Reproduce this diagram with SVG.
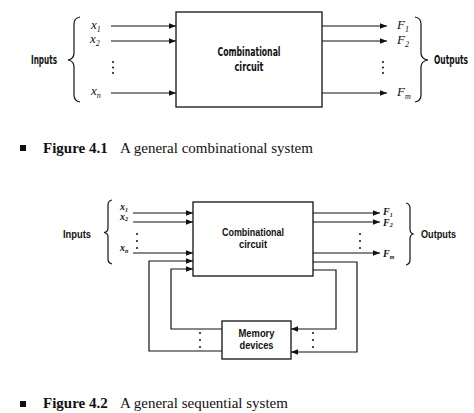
<svg xmlns="http://www.w3.org/2000/svg" width="474" height="413" viewBox="0 0 474 413">
<defs>
<marker id="ah" viewBox="0 0 10 10" refX="10" refY="5" markerWidth="7" markerHeight="7" markerUnits="userSpaceOnUse" orient="auto">
<path d="M0,1 L10,5 L0,9 Z" fill="#111"/>
</marker>
<style>
.ln{fill:none;stroke:#111;stroke-width:1.2}
.ar{fill:none;stroke:#111;stroke-width:1.2;marker-end:url(#ah)}
.box{fill:#fff;stroke:#111;stroke-width:1.3}
.c1{font-family:"DejaVu Sans Condensed","Liberation Sans",sans-serif;font-weight:bold;font-size:12px;fill:#111}
.c2{font-family:"Liberation Sans",Arial,sans-serif;font-weight:bold;font-size:10px;fill:#111}
.v{font-family:"Liberation Serif","Times New Roman",serif;font-style:italic;font-size:13px;fill:#111}
.v2{font-family:"Liberation Serif","Times New Roman",serif;font-style:italic;font-weight:bold;font-size:10px;fill:#111}
.sub{font-size:8px}
.sub2{font-size:6px}
.cap{font-family:"Liberation Serif","Times New Roman",serif;font-size:15px;fill:#111}
.dot{fill:#111}
</style>
</defs>

<!-- Figure 4.1 -->
<g id="fig1-comb">
<rect class="box" x="176" y="12" width="146" height="95"/>
<text class="c1" x="249" y="56" text-anchor="middle" textLength="63" lengthAdjust="spacingAndGlyphs">Combinational</text>
<text class="c1" x="249" y="71" text-anchor="middle" textLength="29" lengthAdjust="spacingAndGlyphs">circuit</text>
</g>
<g id="fig1-inputs">
<path class="ln" d="M80,17 Q74,18 74,24 L74,53 Q74,59 68,60 Q74,61 74,67 L74,95 Q74,101 80,102"/>
<text class="c1" x="31" y="64" textLength="26" lengthAdjust="spacingAndGlyphs">Inputs</text>
<text class="v" x="91" y="29">x<tspan class="sub" dy="3">1</tspan></text>
<text class="v" x="90" y="43">x<tspan class="sub" dy="3">2</tspan></text>
<text class="v" x="91" y="95">x<tspan class="sub" dy="3">n</tspan></text>
<circle class="dot" cx="113" cy="62" r="1"/><circle class="dot" cx="113" cy="67.5" r="1"/><circle class="dot" cx="113" cy="73" r="1"/>
</g>
<g id="fig1-outputs">
<path class="ln" d="M415,17 Q421,18 421,24 L421,53 Q421,59 428,60 Q421,61 421,67 L421,95 Q421,101 415,102"/>
<text class="c1" x="434" y="64" textLength="34" lengthAdjust="spacingAndGlyphs">Outputs</text>
<text class="v" x="397" y="29">F<tspan class="sub" dy="3">1</tspan></text>
<text class="v" x="397" y="44">F<tspan class="sub" dy="3">2</tspan></text>
<text class="v" x="397" y="96">F<tspan class="sub" dy="3">m</tspan></text>
<circle class="dot" cx="383" cy="62" r="1"/><circle class="dot" cx="383" cy="67.5" r="1"/><circle class="dot" cx="383" cy="73" r="1"/>
</g>
<g id="fig1-connectors">
<line class="ar" x1="111" y1="26" x2="176" y2="26"/>
<line class="ar" x1="111" y1="41" x2="176" y2="41"/>
<line class="ar" x1="111" y1="93" x2="176" y2="93"/>
<line class="ar" x1="322" y1="26" x2="387" y2="26"/>
<line class="ar" x1="322" y1="41" x2="387" y2="41"/>
<line class="ar" x1="322" y1="93" x2="387" y2="93"/>
</g>
<g id="caption1">
<rect x="20" y="145" width="6" height="6" fill="#111"/>
<text class="cap" x="43" y="153"><tspan font-weight="bold">Figure 4.1</tspan><tspan x="120">A general combinational system</tspan></text>
</g>

<!-- Figure 4.2 -->
<g id="fig2-comb">
<rect class="box" x="193" y="202" width="120" height="74"/>
<text class="c2" x="253" y="236" text-anchor="middle" textLength="62" lengthAdjust="spacingAndGlyphs">Combinational</text>
<text class="c2" x="253" y="248" text-anchor="middle" textLength="28" lengthAdjust="spacingAndGlyphs">circuit</text>
</g>
<g id="fig2-memory">
<rect class="box" x="222" y="321" width="69" height="38"/>
<text class="c2" x="256.5" y="337" text-anchor="middle" textLength="36" lengthAdjust="spacingAndGlyphs">Memory</text>
<text class="c2" x="256.5" y="349" text-anchor="middle" textLength="34" lengthAdjust="spacingAndGlyphs">devices</text>
</g>
<g id="fig2-inputs">
<path class="ln" d="M112,200 Q108,201 108,205 L108,228 Q108,232 104,232.5 Q108,233 108,237 L108,259 Q108,263 112,264"/>
<text class="c2" x="63" y="238" textLength="28" lengthAdjust="spacingAndGlyphs">Inputs</text>
<text class="v2" x="120" y="210" font-size="8">x<tspan class="sub2" dy="1.5">1</tspan></text>
<text class="v2" x="120" y="219.5" font-size="8">x<tspan class="sub2" dy="1.5">2</tspan></text>
<text class="v2" x="120" y="251" font-size="8">x<tspan class="sub2" dy="2">n</tspan></text>
<circle class="dot" cx="137" cy="234" r="1"/><circle class="dot" cx="137" cy="241" r="1"/><circle class="dot" cx="137" cy="248" r="1"/>
</g>
<g id="fig2-outputs">
<path class="ln" d="M406,203 Q410,204 410,208 L410,229 Q410,233 413,234 Q410,235 410,239 L410,260 Q410,264 406,265"/>
<text class="c2" x="421" y="238" textLength="35" lengthAdjust="spacingAndGlyphs">Outputs</text>
<text class="v2" x="383" y="215">F<tspan class="sub2" dy="1.5">1</tspan></text>
<text class="v2" x="383" y="225.5">F<tspan class="sub2" dy="1.5">2</tspan></text>
<text class="v2" x="383" y="257">F<tspan class="sub2" dy="2">m</tspan></text>
<circle class="dot" cx="360" cy="234" r="1"/><circle class="dot" cx="360" cy="241" r="1"/><circle class="dot" cx="360" cy="248" r="1"/>
<circle class="dot" cx="200" cy="333" r="1"/><circle class="dot" cx="200" cy="340" r="1"/><circle class="dot" cx="200" cy="347" r="1"/>
<circle class="dot" cx="313" cy="333" r="1"/><circle class="dot" cx="313" cy="340" r="1"/><circle class="dot" cx="313" cy="347" r="1"/>
</g>
<g id="fig2-connectors">
<line class="ar" x1="133" y1="213" x2="193" y2="213"/>
<line class="ar" x1="133" y1="222" x2="193" y2="222"/>
<line class="ar" x1="133" y1="253" x2="193" y2="253"/>
<line class="ar" x1="313" y1="213" x2="380" y2="213"/>
<line class="ar" x1="313" y1="222" x2="380" y2="222"/>
<line class="ar" x1="313" y1="253" x2="380" y2="253"/>
<polyline class="ar" points="222,351 149,351 149,261 193,261"/>
<polyline class="ar" points="222,329 171,329 171,269 193,269"/>
<polyline class="ar" points="313,262 357,262 357,352 291,352"/>
<polyline class="ar" points="313,270 336,270 336,329 291,329"/>
</g>
<g id="caption2">
<rect x="20" y="401" width="6" height="6" fill="#111"/>
<text class="cap" x="43" y="408"><tspan font-weight="bold">Figure 4.2</tspan><tspan x="120">A general sequential system</tspan></text>
</g>
</svg>
